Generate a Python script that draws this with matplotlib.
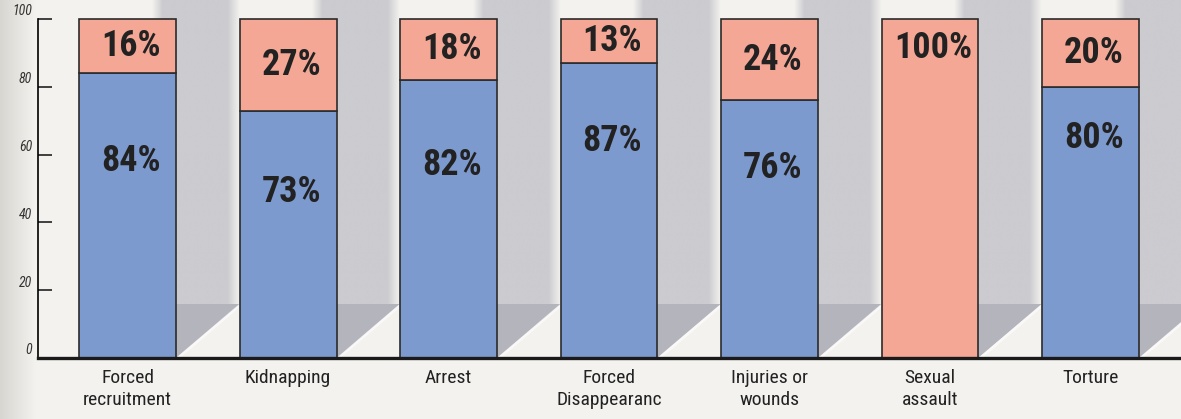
import matplotlib.pyplot as plt
import numpy as np
from matplotlib import font_manager
from matplotlib.colors import LinearSegmentedColormap
from matplotlib.patches import Polygon

categories = ['Forced\nrecruitment', 'Kidnapping', 'Arrest', 'Forced\nDisappearanc',
              'Injuries or\nwounds', 'Sexual\nassault', 'Torture']
blue_share = [84, 73, 82, 87, 76, 0, 80]
red_share = [16, 27, 18, 13, 24, 100, 20]
y_ticks = [0, 20, 40, 60, 80, 100]

# where the big number in the blue part sits (data units), as in the original layout
blue_label_y = [58, 49, 57, 64, 56, None, 65]

BLUE = '#7d9acf'
RED = '#f4a794'
BG = '#f3f2ee'
SHADOW = '#cbcbd0'
FOLD = '#b4b4bc'
EDGE = '#2b2b2b'

# pick a narrow font if there is one
installed = {f.name for f in font_manager.fontManager.ttflist}
wanted = ['Liberation Sans Narrow', 'Roboto Condensed', 'Open Sans Condensed',
          'Noto Sans Condensed', 'DejaVu Sans Condensed', 'Liberation Sans']
family = [f for f in wanted if f in installed][:1] + ['DejaVu Sans']
plt.rcParams['font.family'] = family

fig = plt.figure(figsize=(11.81, 4.19), dpi=100)
fig.patch.set_facecolor(BG)

# background: slightly darker strip on the far left
bg = fig.add_axes([0, 0, 1, 1], zorder=-10)
edge_cmap = LinearSegmentedColormap.from_list('edge', ['#d8d6d1', BG])
bg.imshow(np.linspace(0, 1, 100)[None, :], extent=(0, 0.03, 0, 1), cmap=edge_cmap,
          aspect='auto')
bg.set_xlim(0, 1)
bg.set_ylim(0, 1)
bg.axis('off')

ax = fig.add_axes([38 / 1181, 61 / 419, 1 - 38 / 1181, 358 / 419])
ax.patch.set_alpha(0)
x = np.arange(len(categories))
width = 0.604
ax.set_xlim(-0.558, 6.564)
ax.set_ylim(0, 105.6)

# grey "shadow" columns between the bars, with a folded corner at the bottom
shade_cmap = LinearSegmentedColormap.from_list('shade', [BG, SHADOW])
t = np.linspace(0, 1, 200)
profile = np.clip(np.minimum(t / 0.12, (1 - t) / 0.14), 0, 1)
fold_top = 16
for i in x:
    right = i + width / 2
    nxt = i + 1 - width / 2
    ax.imshow(profile[None, :], extent=(i + 0.15, nxt, fold_top, 105.6), cmap=shade_cmap,
              vmin=0, vmax=1, aspect='auto', zorder=0, clip_on=True)
    ax.add_patch(Polygon([(right, 0), (right, fold_top), (nxt, fold_top)], closed=True,
                         facecolor=FOLD, edgecolor='none', zorder=1))
    ax.plot([right + 0.012, nxt + 0.012], [0, fold_top], color='white', lw=2, alpha=0.6,
            zorder=1, solid_capstyle='butt')

ax.bar(x, blue_share, width, color=BLUE, edgecolor=EDGE, linewidth=1.2, zorder=3)
ax.bar(x, red_share, width, bottom=blue_share, color=RED, edgecolor=EDGE, linewidth=1.2,
       zorder=3)

for i, (b, r) in enumerate(zip(blue_share, red_share)):
    ry = b + r / 2 if b > 0 else 91.5
    ax.text(i + 0.02, ry, f'{r}%', ha='center', va='center', fontsize=26,
            fontweight='bold', color='#222222', zorder=4)
    if b > 0:
        ax.text(i + 0.02, blue_label_y[i], f'{b}%', ha='center', va='center', fontsize=26,
                fontweight='bold', color='#222222', zorder=4)

ax.set_xticks(x, categories, fontsize=14, color='#222222', linespacing=1.3)
ax.tick_params(axis='x', length=0, pad=8)

ax.set_yticks(y_ticks, [''] * len(y_ticks))
ax.tick_params(axis='y', direction='in', length=10, width=1.2, color='#222222')
for v in y_ticks:
    ax.annotate(str(v), xy=(0, v), xycoords=('axes fraction', 'data'), xytext=(-4.3, 0.5),
                textcoords='offset points', ha='right', va='bottom', fontsize=10,
                fontstyle='italic', color='#333333')

ax.spines['top'].set_visible(False)
ax.spines['right'].set_visible(False)
ax.spines['left'].set_bounds(0, 100)
ax.spines['left'].set_linewidth(1.2)
ax.spines['left'].set_zorder(5)
ax.spines['bottom'].set_linewidth(2.4)
ax.spines['bottom'].set_color('#1a1a1a')
ax.spines['bottom'].set_zorder(5)

fig.savefig('out.png', dpi=100, facecolor=BG)
